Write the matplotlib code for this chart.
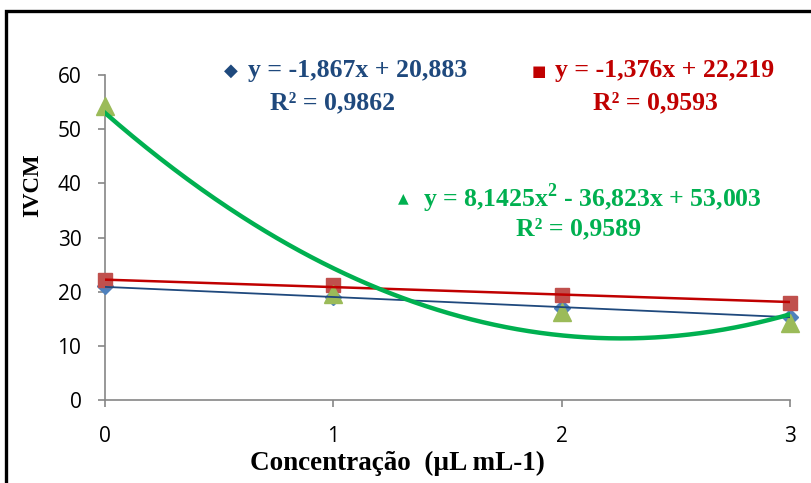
import numpy as np
import matplotlib
matplotlib.use("Agg")
import matplotlib.pyplot as plt
from matplotlib.patches import Rectangle

# ---- data ----
x_conc = [0, 1, 2, 3]
blue_vals = [21.0, 19.0, 17.0, 15.4]
red_vals = [22.2, 21.2, 19.4, 18.0]
green_vals = [54.3, 19.6, 16.3, 14.3]

blue_fit = [-1.867, 20.883]
red_fit = [-1.376, 22.219]
green_fit = [8.1425, -36.823, 53.003]

blue_eq = "y = -1,867x + 20,883"
blue_r2 = "R² = 0,9862"
red_eq = "y = -1,376x + 22,219"
red_r2 = "R² = 0,9593"
green_eq = "y = 8,1425x$^{\\mathbf{2}}$ - 36,823x + 53,003"
green_r2 = "R² = 0,9589"

y_ticks = [0, 10, 20, 30, 40, 50, 60]
x_ticks = [0, 1, 2, 3]

fig = plt.figure(figsize=(8.11, 4.83), dpi=100)
ax = fig.add_axes([105/811, 1-400/483, 685/811, 325/483])

serif = "Liberation Serif"
plt.rcParams['mathtext.fontset'] = 'custom'
plt.rcParams['mathtext.bf'] = 'Liberation Serif:bold'
plt.rcParams['mathtext.rm'] = 'Liberation Serif:bold'

xs = np.linspace(0, 3, 300)
ax.plot(x_conc, blue_vals, linestyle='none', marker='D', color='#4F81BD', markersize=8, zorder=3, clip_on=False)
ax.plot(x_conc, red_vals, linestyle='none', marker='s', color='#C0504D', markersize=10, zorder=4, clip_on=False)
ax.plot(x_conc, green_vals, linestyle='none', marker='^', color='#9BBB59', markersize=13, zorder=5, clip_on=False)

ax.plot(xs, np.polyval(blue_fit, xs), color='#1F497D', lw=1.3, zorder=6)
ax.plot(xs, np.polyval(red_fit, xs), color='#C00000', lw=1.8, zorder=6)
ax.plot(xs, np.polyval(green_fit, xs), color='#00B050', lw=3.2, zorder=6)

ax.set_xlim(0, 3)
ax.set_ylim(0, 60)
ax.set_xticks(x_ticks)
ax.set_yticks(y_ticks)
for s in ['top', 'right']:
    ax.spines[s].set_visible(False)
for s in ['left', 'bottom']:
    ax.spines[s].set_color('#868686')
    ax.spines[s].set_linewidth(1.2)
ax.tick_params(axis='both', colors='#868686', length=5, width=1.2, labelcolor='black',
               labelsize=15)
ax.tick_params(axis='x', pad=14)
ax.tick_params(axis='y', pad=12)
for lab in ax.get_xticklabels() + ax.get_yticklabels():
    lab.set_fontfamily('Open Sans')

fig.text(33/811, 1-185/483, "IVCM", fontfamily=serif, fontweight='bold', fontsize=16.5,
         rotation=90, ha='center', va='center')
fig.text(397/811, 1-463/483, "Concentração  (µL mL-1)", fontfamily=serif, fontweight='bold',
         fontsize=19.5, ha='center', va='center')

def fx(px):
    return px/811
def fy(py):
    return 1-py/483

fs = 18.5
# blue
fig.text(fx(231), fy(71), "◆", color='#1F497D', fontsize=13, ha='center', va='center', family='DejaVu Sans')
fig.text(fx(248), fy(71), blue_eq, color='#1F497D', fontsize=fs, fontweight='bold', family=serif, ha='left', va='center')
fig.text(fx(333), fy(103), blue_r2, color='#1F497D', fontsize=fs, fontweight='bold', family=serif, ha='center', va='center')
# red
fig.text(fx(539), fy(71), "■", color='#C00000', fontsize=11, ha='center', va='center', family='DejaVu Sans')
fig.text(fx(555), fy(71), red_eq, color='#C00000', fontsize=fs, fontweight='bold', family=serif, ha='left', va='center')
fig.text(fx(655), fy(103), red_r2, color='#C00000', fontsize=fs, fontweight='bold', family=serif, ha='center', va='center')
# green
fig.text(fx(403), fy(198), "▲", color='#00B050', fontsize=10, ha='center', va='center', family='DejaVu Sans')
fig.text(fx(423), fy(198), green_eq, color='#00B050', fontsize=fs, fontweight='bold', family=serif, ha='left', va='center')
fig.text(fx(578), fy(229), green_r2, color='#00B050', fontsize=fs, fontweight='bold', family=serif, ha='center', va='center')

# outer frame
fig.patches.append(Rectangle((fx(6), -0.1), 1.2, fy(11)+0.1, transform=fig.transFigure,
                             fill=False, edgecolor='black', lw=2.4, zorder=10))

fig.savefig("out.png", dpi=100)
